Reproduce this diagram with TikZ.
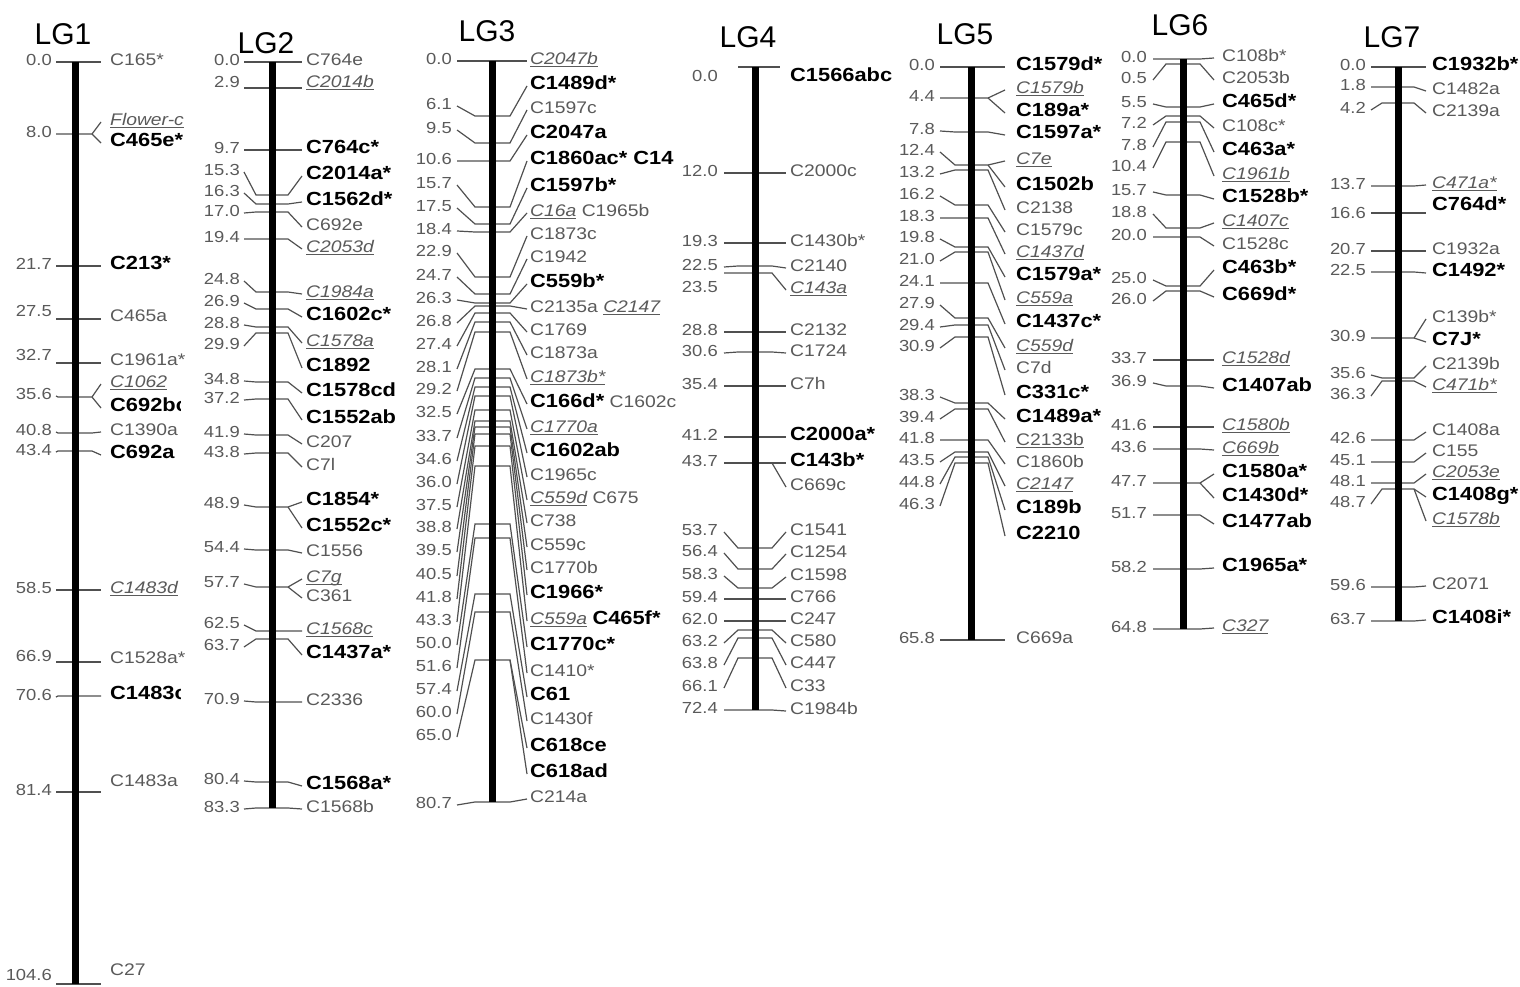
\documentclass[tikz,border=0pt]{standalone}
\usepackage{fontspec}
\setmainfont{Liberation Sans}[FakeStretch=1.15]
\newfontfamily\ttlfont{Liberation Sans}
\definecolor{tc}{HTML}{5A5A5A}
\definecolor{lc}{HTML}{505050}
\newcommand{\Bd}[1]{{\color{black}\fontsize{19}{21}\selectfont\bfseries #1}}
\newcommand{\Ul}[1]{{\setbox0=\hbox{\itshape #1}\rlap{\rule[-2.8pt]{\wd0}{1.1pt}}\box0}}
\newcommand{\Uu}[1]{{\setbox0=\hbox{#1}\rlap{\rule[-2.8pt]{\wd0}{1.1pt}}\box0}}
\newcommand{\grp}[6]{\def\gN{#1}\def\gA{#2}\def\gB{#3}\def\gC{#4}\def\gD{#5}\def\gL{#6}}
\newcommand{\mkg}[7]{\draw[tk] (\gA,#2) -- (\gB,#1) -- (\gC,#1) -- (\gD,#5);
  \node[num] at (\gN,#3) {#4}; \node[lab] at (\gL,#6) {#7};}
\newcommand{\mk}[5]{\mkg{#1}{#2}{#2}{#3}{#4}{#4}{#5}}
\newcommand{\mx}[3]{\draw[tk] (\gC,#1) -- (\gD,#2); \node[lab] at (\gL,#2) {#3};}
\tikzset{
  tk/.style={draw=lc, line width=1.2pt},
  chrom/.style={line width=7pt, black},
  num/.style={anchor=east, inner sep=0pt, text=tc, font=\fontsize{16}{18}\selectfont, text height=.72em, text depth=0pt},
  lab/.style={anchor=west, inner sep=0pt, text=tc, font=\fontsize{16.8}{19}\selectfont, text height=.72em, text depth=0pt},
  ttl/.style={inner sep=0pt, text=black, font=\ttlfont\fontsize{30}{30}\selectfont}
}
\begin{document}
\begin{tikzpicture}[x=1pt,y=-1pt]
\fill[white] (0,0) rectangle (1520,987);
\useasboundingbox (0,0) rectangle (1520,987);
% ---------------- LG1
\begin{scope}
\grp{52}{56}{58}{92}{101}{110}
\node[ttl] (t1) at (63,34) {LG1};
\mk{62}{62}{0.0}{62}{C165*}
\mk{134}{134}{8.0}{122}{\Ul{Flower-c}} \mx{134}{143}{\Bd{C465e*}}
\mk{266}{266}{21.7}{266}{\Bd{C213*}}
\mkg{319}{319}{313}{27.5}{319}{318}{C465a}
\mkg{363}{363}{357}{32.7}{363}{362}{C1961a*}
\begin{scope}
\clip (0,0) rectangle (180,987);
\mk{397}{396}{35.6}{384}{\Ul{C1062}} \mx{397}{408}{\Bd{C692bc}}
\mk{696}{697}{70.6}{696}{\Bd{C1483c}}
\end{scope}
\mk{433}{432}{40.8}{432}{C1390a}
\mk{451}{452}{43.4}{455}{\Bd{C692a}}
\mk{590}{590}{58.5}{590}{\Ul{C1483d}}
\mkg{662}{662}{658}{66.9}{662}{660}{C1528a*}
\mkg{792}{792}{792}{81.4}{792}{783}{C1483a}
\mkg{984}{984}{977}{104.6}{984}{972}{C27}
\draw[chrom] (75,62) -- (75,984);
\end{scope}
% ---------------- LG2
\begin{scope}
\grp{240}{244}{256}{288}{302}{306}
\node[ttl] (t2) at (266,43) {LG2};
\mk{62}{62}{0.0}{62}{C764e}
\mkg{88}{88}{84}{2.9}{88}{84}{\Ul{C2014b}}
\mk{150}{150}{9.7}{150}{\Bd{C764c*}}
\mk{195}{172}{15.3}{176}{\Bd{C2014a*}}
\mk{204}{193}{16.3}{202}{\Bd{C1562d*}}
\mk{212}{213}{17.0}{227}{C692e}
\mk{239}{239}{19.4}{249}{\Ul{C2053d}}
\mk{292}{281}{24.8}{294}{\Ul{C1984a}}
\mk{309}{303}{26.9}{317}{\Bd{C1602c*}}
\mk{327}{325}{28.8}{343}{\Ul{C1578a}}
\mk{333}{346}{29.9}{368}{\Bd{C1892}}
\mk{382}{381}{34.8}{393}{\Bd{C1578cd}}
\mk{399}{400}{37.2}{420}{\Bd{C1552ab}}
\mk{435}{434}{41.9}{444}{C207}
\mk{453}{454}{43.8}{467}{C7l}
\mk{507}{505}{48.9}{502}{\Bd{C1854*}} \mx{507}{528}{\Bd{C1552c*}}
\mk{550}{549}{54.4}{553}{C1556}
\mk{587}{584}{57.7}{579}{\Ul{C7g}} \mx{587}{598}{C361}
\mk{631}{625}{62.5}{631}{\Ul{C1568c}}
\mk{639}{647}{63.7}{655}{\Bd{C1437a*}}
\mk{702}{701}{70.9}{702}{C2336}
\mk{782}{781}{80.4}{786}{\Bd{C1568a*}}
\mk{808}{809}{83.3}{809}{C1568b}
\draw[chrom] (272,62) -- (272,808);
\end{scope}
% ---------------- LG3
\begin{scope}
\grp{452}{457}{475}{510}{527}{530}
\node[ttl] (t3) at (487,31) {LG3};
\mk{61}{61}{0.0}{61}{\Ul{C2047b}}
\mk{116}{106}{6.1}{86}{\Bd{C1489d*}}
\mk{143}{130}{9.5}{110}{C1597c}
\mk{161}{161}{10.6}{135}{\Bd{C2047a}}
\mk{207}{185}{15.7}{161}{\Bd{C1860ac* C14}}
\mk{224}{208}{17.5}{188}{\Bd{C1597b*}}
\mk{232}{231}{18.4}{213}{\Ul{C16a} C1965b}
\mk{277}{253}{22.9}{236}{C1873c}
\mk{294}{277}{24.7}{259}{C1942}
\mk{303}{300}{26.3}{284}{\Bd{C559b*}}
\mk{306}{323}{26.8}{309}{C2135a \Ul{C2147}}
\mk{313}{346}{27.4}{332}{C1769}
\mk{322}{369}{28.1}{355}{C1873a}
\mk{332}{391}{29.2}{379}{\Ul{C1873b*}}
\mk{369}{414}{32.5}{404}{\Bd{C166d*} C1602c}
\mk{378}{438}{33.7}{429}{\Ul{C1770a}}
\mk{387}{461}{34.6}{453}{\Bd{C1602ab}}
\mk{396}{484}{36.0}{477}{C1965c}
\mk{410}{507}{37.5}{500}{\Ul{C559d} C675}
\mk{421}{529}{38.8}{523}{C738}
\mk{427}{552}{39.5}{547}{C559c}
\mk{434}{576}{40.5}{570}{C1770b}
\mk{446}{599}{41.8}{595}{\Bd{C1966*}}
\mk{466}{622}{43.3}{621}{\Ul{C559a} \Bd{C465f*}}
\mk{524}{645}{50.0}{647}{\Bd{C1770c*}}
\mk{538}{668}{51.6}{673}{C1410*}
\mk{594}{691}{57.4}{697}{\Bd{C61}}
\mk{612}{714}{60.0}{721}{C1430f}
\mk{660}{737}{65.0}{748}{\Bd{C618ce}} \mx{660}{774}{\Bd{C618ad}}
\mk{802}{805}{80.7}{799}{C214a}
\draw[chrom] (492,61) -- (492,802);
\end{scope}
% ---------------- LG4
\begin{scope}
\grp{718}{724}{738}{772}{786}{790}
\node[ttl] (t4) at (748,37) {LG4};
\draw[tk] (738,67) -- (780,67);
\node[num] (n40) at (718,78) {0.0};
\node[lab] (l40) at (790,78) {\Bd{C1566abc}};
\mk{173}{173}{12.0}{173}{C2000c}
\mk{243}{243}{19.3}{243}{C1430b*}
\mk{266}{267}{22.5}{268}{C2140}
\mkg{273}{273}{289}{23.5}{290}{290}{\Ul{C143a}}
\mk{332}{332}{28.8}{332}{C2132}
\mk{352}{353}{30.6}{353}{C1724}
\mk{386}{386}{35.4}{386}{C7h}
\mk{437}{437}{41.2}{437}{\Bd{C2000a*}}
\mk{463}{463}{43.7}{463}{\Bd{C143b*}} \mx{463}{487}{C669c}
\mk{548}{532}{53.7}{532}{C1541}
\mk{569}{553}{56.4}{554}{C1254}
\mk{588}{576}{58.3}{577}{C1598}
\mk{599}{599}{59.4}{599}{C766}
\mk{621}{621}{62.0}{621}{C247}
\mk{630}{643}{63.2}{643}{C580}
\mk{638}{665}{63.8}{665}{C447}
\mk{658}{688}{66.1}{688}{C33}
\mk{710}{710}{72.4}{711}{C1984b}
\draw[chrom] (755,67) -- (755,710);
\end{scope}
% ---------------- LG5
\begin{scope}
\grp{935}{940}{955}{988}{1005}{1016}
\node[ttl] (t5) at (965,34) {LG5};
\mk{67}{67}{0.0}{67}{\Bd{C1579d*}}
\mk{98}{98}{4.4}{90}{\Ul{C1579b}} \mx{98}{113}{\Bd{C189a*}}
\mk{132}{131}{7.8}{135}{\Bd{C1597a*}}
\mk{165}{152}{12.4}{161}{\Ul{C7e}} \mx{165}{187}{\Bd{C1502b}}
\mk{170}{174}{13.2}{210}{C2138}
\mk{205}{196}{16.2}{232}{C1579c}
\mk{218}{218}{18.3}{254}{\Ul{C1437d}}
\mk{247}{239}{19.8}{277}{\Bd{C1579a*}}
\mk{252}{261}{21.0}{300}{\Ul{C559a}}
\mk{283}{283}{24.1}{324}{\Bd{C1437c*}}
\mk{318}{305}{27.9}{348}{\Ul{C559d}}
\mk{325}{327}{29.4}{370}{C7d}
\mk{337}{348}{30.9}{395}{\Bd{C331c*}}
\mk{403}{397}{38.3}{419}{\Bd{C1489a*}}
\mk{409}{419}{39.4}{442}{\Uu{C2133b}}
\mk{440}{440}{41.8}{464}{C1860b}
\mk{452}{462}{43.5}{486}{\Ul{C2147}}
\mk{457}{484}{44.8}{510}{\Bd{C189b}}
\mk{463}{506}{46.3}{536}{\Bd{C2210}}
\mk{640}{640}{65.8}{640}{C669a}
\draw[chrom] (971,67) -- (971,640);
\end{scope}
% ---------------- LG6
\begin{scope}
\grp{1147}{1153}{1166}{1200}{1214}{1222}
\node[ttl] (t6) at (1180,25) {LG6};
\mk{59}{59}{0.0}{58}{C108b*}
\mk{64}{80}{0.5}{80}{C2053b}
\mk{107}{104}{5.5}{104}{\Bd{C465d*}}
\mk{116}{125}{7.2}{128}{C108c*}
\mk{122}{147}{7.8}{152}{\Bd{C463a*}}
\mk{142}{168}{10.4}{176}{\Ul{C1961b}}
\mk{195}{192}{15.7}{199}{\Bd{C1528b*}}
\mk{228}{214}{18.8}{223}{\Ul{C1407c}}
\mk{237}{237}{20.0}{246}{C1528c}
\mk{286}{280}{25.0}{270}{\Bd{C463b*}}
\mk{291}{301}{26.0}{297}{\Bd{C669d*}}
\mk{360}{360}{33.7}{360}{\Ul{C1528d}}
\mk{386}{383}{36.9}{388}{\Bd{C1407ab}}
\mk{427}{427}{41.6}{427}{\Ul{C1580b}}
\mk{449}{449}{43.6}{450}{\Ul{C669b}}
\mk{483}{483}{47.7}{474}{\Bd{C1580a*}} \mx{483}{498}{\Bd{C1430d*}}
\mk{515}{515}{51.7}{524}{\Bd{C1477ab}}
\mk{569}{569}{58.2}{568}{\Bd{C1965a*}}
\mk{629}{629}{64.8}{628}{\Ul{C327}}
\draw[chrom] (1183,59) -- (1183,629);
\end{scope}
% ---------------- LG7
\begin{scope}
\grp{1366}{1371}{1382}{1414}{1426}{1432}
\node[ttl] (t7) at (1392,37) {LG7};
\mk{67}{67}{0.0}{67}{\Bd{C1932b*}}
\mk{87}{87}{1.8}{91}{C1482a}
\mk{103}{110}{4.2}{113}{C2139a}
\mk{186}{186}{13.7}{185}{\Ul{C471a*}}
\mkg{213}{213}{215}{16.6}{213}{207}{\Bd{C764d*}}
\mk{251}{251}{20.7}{251}{C1932a}
\mk{272}{272}{22.5}{273}{\Bd{C1492*}}
\mk{338}{338}{30.9}{319}{C139b*} \mx{338}{342}{\Bd{C7J*}}
\mk{378}{375}{35.6}{366}{C2139b}
\mk{381}{396}{36.3}{387}{\Ul{C471b*}}
\mk{440}{440}{42.6}{432}{C1408a}
\mk{462}{462}{45.1}{453}{C155}
\mk{483}{483}{48.1}{474}{\Ul{C2053e}}
\mk{489}{504}{48.7}{497}{\Bd{C1408g*}} \mx{489}{521}{\Ul{C1578b}}
\mk{587}{587}{59.6}{586}{C2071}
\mk{621}{621}{63.7}{620}{\Bd{C1408i*}}
\draw[chrom] (1398,67) -- (1398,621);
\end{scope}
\end{tikzpicture}
\end{document}
